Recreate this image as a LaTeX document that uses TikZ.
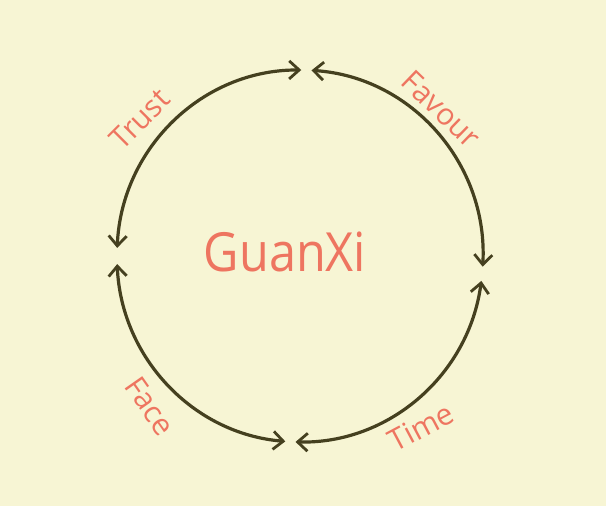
\documentclass[tikz,border=0pt]{standalone}
\usepackage{fontspec}
\setmainfont{Open Sans}
\usetikzlibrary{arrows.meta}
\definecolor{paper}{HTML}{F7F5D4}
\definecolor{ink}{HTML}{45401F}
\definecolor{salmon}{HTML}{EE7560}
\tikzset{
  ring/.style={draw=ink, line width=3.2pt, line cap=round,
    {Straight Barb[length=10pt,width=18pt,line width=2.8pt]}-{Straight Barb[length=10pt,width=18pt,line width=2.8pt]}},
  lbl/.style={text=salmon, font=\fontsize{30}{30}\selectfont},
  title/.style={text=salmon, font=\fontsize{54}{54}\selectfont}
}
\begin{document}
\begin{tikzpicture}[x=1pt,y=1pt]
\fill[paper] (-300,-250) rectangle (306,256);
\useasboundingbox (-300,-250) rectangle (306,256);
\def\rx{183}\def\ry{186}
% gap end points
\coordinate (tl) at ({\rx*cos(89.6)},{\ry*sin(89.6)});
\coordinate (tr) at ({\rx*cos(86.4)},{\ry*sin(86.4)});
\coordinate (lt) at ({\rx*cos(177.5)},{\ry*sin(177.5)});
\coordinate (lb) at ({\rx*cos(182.5)},{\ry*sin(182.5)});
\coordinate (rt) at ({\rx*cos(-3.3)},{\ry*sin(-3.3)});
\coordinate (rb) at ({\rx*cos(-7.7)},{\ry*sin(-7.7)});
\coordinate (br) at ({\rx*cos(-91.4)},{\ry*sin(-91.4)});
\coordinate (bl) at ({\rx*cos(-94.6)},{\ry*sin(-94.6)});
% arcs
\draw[ring] (tl) arc[start angle=89.6, end angle=177.5, x radius=\rx, y radius=\ry];
\draw[ring] (tr) arc[start angle=86.4, end angle=-3.3, x radius=\rx, y radius=\ry];
\draw[ring] (rb) arc[start angle=-7.7, end angle=-91.4, x radius=\rx, y radius=\ry];
\draw[ring] (bl) arc[start angle=-94.6, end angle=-177.5, x radius=\rx, y radius=\ry];
% labels
\node[title, xscale=0.9] (g) at (-15,4) {GuanXi};
\node[lbl, rotate=45] (trust) at (-160,137) {Trust};
\node[lbl, rotate=-44] (favour) at (141,147) {Favour};
\node[lbl, rotate=-55] (face) at (-150,-150) {Face};
\node[lbl, rotate=28] (time) at (121,-171) {Time};
\end{tikzpicture}
\end{document}
